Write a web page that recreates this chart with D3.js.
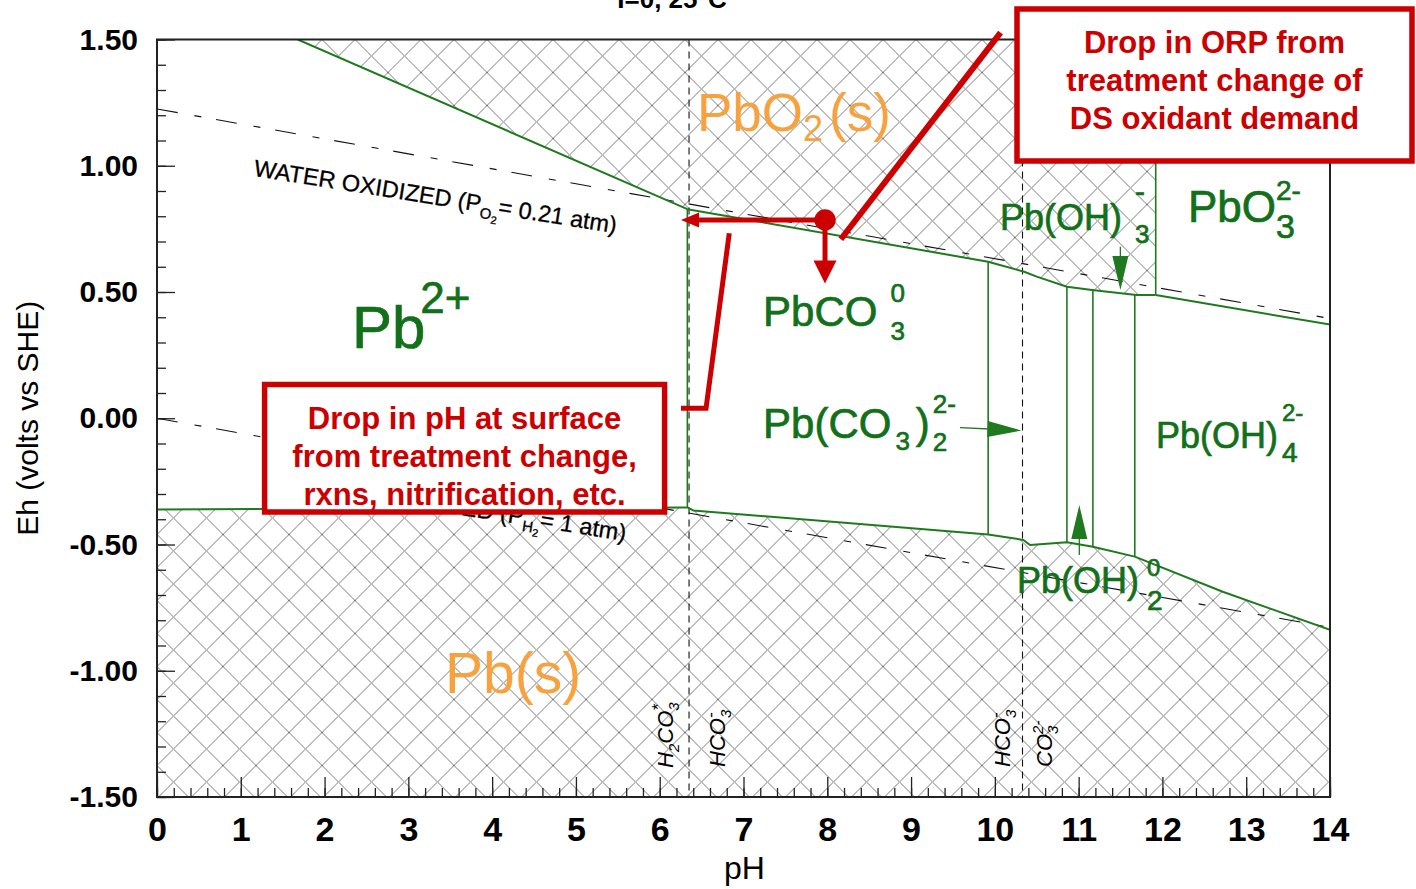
<!DOCTYPE html>
<html>
<head>
<meta charset="utf-8">
<script src="https://cdn.jsdelivr.net/npm/d3@7"></script>
<style>
  html, body { margin: 0; padding: 0; background: #fff; }
  svg { display: block; }
</style>
</head>
<body>
<svg id="chart" width="1416" height="889"></svg>
<script>
// Eh–pH predominance diagram for lead with carbonate, I=0, 25 °C

// ---- data -------------------------------------------------------------
const phTicks = [0, 1, 2, 3, 4, 5, 6, 7, 8, 9, 10, 11, 12, 13, 14];
const ehTicks = [-1.5, -1.0, -0.5, 0.0, 0.5, 1.0, 1.5];

// lower edge of the PbO2(s) field  [pH, Eh]
const pbo2Edge = [
  [1.68, 1.500], [6.33, 0.828], [9.92, 0.620], [10.35, 0.580], [10.50, 0.561],
  [10.86, 0.521], [11.16, 0.508], [11.69, 0.488], [11.92, 0.488]
];
// PbO3(2-) / Pb(OH)4(2-) boundary
const pbo3Edge = [[11.92, 0.488], [14.0, 0.371]];
// upper edge of the Pb(s) field
const pbEdge = [
  [0.00, -0.361], [6.33, -0.353], [6.40, -0.365], [9.92, -0.460], [10.34, -0.482],
  [10.42, -0.502], [10.86, -0.491], [11.17, -0.509], [11.67, -0.548], [12.72, -0.687],
  [14.00, -0.838]
];
// vertical boundaries between dissolved species  {pH, top Eh, bottom Eh}
const fieldEdges = [
  { ph: 6.33,  top: 0.828, bottom: -0.353 },
  { ph: 9.92,  top: 0.620, bottom: -0.460 },
  { ph: 10.86, top: 0.521, bottom: -0.491 },
  { ph: 11.17, top: 0.508, bottom: -0.509 },
  { ph: 11.67, top: 0.488, bottom: -0.548 },
  { ph: 11.92, top: 1.500, bottom: 0.488 }
];
const carbonatePKa = [6.35, 10.33];
const waterO2 = [[0, 1.225], [14, 0.395]];
const waterH2 = [[0, 0.000], [14, -0.828]];

// small arrows pointing into narrow fields  [tail, tip]
const fieldArrows = [
  [[11.498, 0.679], [11.498, 0.508]],
  [[9.584, -0.037], [10.318, -0.0485]],
  [[11.008, -0.542], [11.008, -0.344]]
];

// treatment-change annotation: starting point and where it moves to
const orpPoint = [7.973, 0.785];
const phDropTo = 6.254;
const ehDropTo = 0.534;

// ---- layout -----------------------------------------------------------
const svg = d3.select('#chart');
const x = d3.scaleLinear().domain([0, 14]).range([157, 1330]);
const y = d3.scaleLinear().domain([-1.5, 1.5]).range([797, 39.5]);
const px = d => x(d[0]);
const py = d => y(d[1]);
const line = d3.line().x(px).y(py);

const fontMain = "'Liberation Sans', Arial, Helvetica, sans-serif";
const fontNarrow = "'Liberation Sans Narrow', 'Arial Narrow', 'Liberation Sans', Arial, sans-serif";
const green = '#1f7a1f';
const greenText = '#12701a';
const orange = '#f7a13f';
const red = '#cc0000';

const defs = svg.append('defs');
defs.append('pattern')
  .attr('id', 'xhatch')
  .attr('patternUnits', 'userSpaceOnUse')
  .attr('width', 33).attr('height', 33)
  .attr('x', x(0)).attr('y', y(1.5))
  .append('path')
  .attr('d', 'M-3,-3L36,36M36,-3L-3,36')
  .attr('stroke', '#7c7c7c').attr('stroke-width', 1).attr('fill', 'none');

defs.append('clipPath').attr('id', 'plotClip')
  .append('rect')
  .attr('x', x(0)).attr('y', y(1.5))
  .attr('width', x(14) - x(0)).attr('height', y(-1.5) - y(1.5));

const plot = svg.append('g').attr('clip-path', 'url(#plotClip)');

// solid-phase fields
plot.append('path')
  .attr('d', line(pbo2Edge.concat([[11.92, 1.5], [1.68, 1.5]])) + 'Z')
  .attr('fill', 'url(#xhatch)');
plot.append('path')
  .attr('d', line(pbEdge.concat([[14, -1.5], [0, -1.5]])) + 'Z')
  .attr('fill', 'url(#xhatch)');

// water stability limits
[waterO2, waterH2].forEach(w => {
  plot.append('path').attr('d', line(w))
    .attr('fill', 'none').attr('stroke', '#111').attr('stroke-width', 1.1)
    .attr('stroke-dasharray', '21,17,7,15');
});

// carbonate speciation boundaries
plot.selectAll('line.pka').data(carbonatePKa).enter().append('line')
  .attr('x1', d => x(d)).attr('x2', d => x(d))
  .attr('y1', y(1.5)).attr('y2', y(-1.5))
  .attr('stroke', '#111').attr('stroke-width', 1.1)
  .attr('stroke-dasharray', '7,5');

// field boundaries
[pbo2Edge, pbo3Edge, pbEdge].forEach(b => {
  plot.append('path').attr('d', line(b))
    .attr('fill', 'none').attr('stroke', green).attr('stroke-width', 2)
    .attr('stroke-linejoin', 'round');
});
plot.selectAll('line.edge').data(fieldEdges).enter().append('line')
  .attr('x1', d => x(d.ph)).attr('x2', d => x(d.ph))
  .attr('y1', d => y(d.top)).attr('y2', d => y(d.bottom))
  .attr('stroke', green).attr('stroke-width', 1.6);

// arrows into the narrow fields
function arrow(g, tail, tip, headLen, halfW, color, strokeW) {
  const x0 = px(tail), y0 = py(tail), x1 = px(tip), y1 = py(tip);
  const len = Math.hypot(x1 - x0, y1 - y0);
  const ux = (x1 - x0) / len, uy = (y1 - y0) / len;
  const bx = x1 - ux * headLen, by = y1 - uy * headLen;
  g.append('line')
    .attr('x1', x0).attr('y1', y0).attr('x2', bx + ux * 2).attr('y2', by + uy * 2)
    .attr('stroke', color).attr('stroke-width', strokeW);
  g.append('path')
    .attr('d', `M${x1},${y1}L${bx - uy * halfW},${by + ux * halfW}L${bx + uy * halfW},${by - ux * halfW}Z`)
    .attr('fill', color);
}
fieldArrows.forEach(a => arrow(svg, a[0], a[1], 34, 8, green, 1.3));

// frame
svg.append('rect')
  .attr('x', x(0)).attr('y', y(1.5))
  .attr('width', x(14) - x(0)).attr('height', y(-1.5) - y(1.5))
  .attr('fill', 'none').attr('stroke', '#222').attr('stroke-width', 2);

// axes (ticks point inward)
const fmt = d => d.toFixed(2);
const yMinor = svg.append('g').attr('transform', `translate(${x(0)},0)`)
  .call(d3.axisLeft(y).tickValues(d3.range(-15, 16).map(v => v / 10)).tickSize(-9).tickFormat(''));
const yMajor = svg.append('g').attr('transform', `translate(${x(0)},0)`)
  .call(d3.axisLeft(y).tickValues(ehTicks).tickSize(-18).tickPadding(19).tickFormat(fmt));
const xMinor = svg.append('g').attr('transform', `translate(0,${y(-1.5)})`)
  .call(d3.axisBottom(x).tickValues(d3.range(0, 71).map(v => v / 5)).tickSize(-9).tickFormat(''));
const xMajor = svg.append('g').attr('transform', `translate(0,${y(-1.5)})`)
  .call(d3.axisBottom(x).tickValues(phTicks).tickSize(-20).tickPadding(20).tickFormat(d => String(d)));
[yMinor, yMajor, xMinor, xMajor].forEach(a => {
  a.select('.domain').remove();
  a.selectAll('.tick line').attr('stroke', '#222').attr('stroke-width', 1.3);
});
yMajor.selectAll('text')
  .attr('font-family', fontMain).attr('font-weight', 'bold').attr('font-size', 30).attr('fill', '#000');
xMajor.selectAll('text')
  .attr('font-family', fontNarrow).attr('font-weight', 'bold').attr('font-size', 34).attr('fill', '#000');

svg.append('text')
  .attr('transform', `translate(38,${(y(1.5) + y(-1.5)) / 2}) rotate(-90)`)
  .attr('text-anchor', 'middle')
  .attr('font-family', fontNarrow).attr('font-size', 30).attr('fill', '#000')
  .text('Eh (volts vs SHE)');
svg.append('text')
  .attr('x', (x(0) + x(14)) / 2 + 1).attr('y', 879)
  .attr('text-anchor', 'middle')
  .attr('font-family', fontNarrow).attr('font-size', 32).attr('fill', '#000')
  .text('pH');
svg.append('text')
  .attr('x', 672).attr('y', 8)
  .attr('text-anchor', 'middle')
  .attr('font-family', fontMain).attr('font-weight', 'bold').attr('font-size', 26).attr('fill', '#000')
  .text('I=0, 25°C');

// chemical formula with sub/superscripts laid out piece by piece
function formula(parent, transform, parts, style, anchorEnd) {
  const g = parent.append('g').attr('transform', transform);
  const inner = g.append('g');
  let cx = 0, prevStart = 0, prevEnd = 0;
  parts.forEach(p => {
    const start = p.stack ? prevStart : cx + (p.dx || 0);
    const t = inner.append('text')
      .attr('x', start).attr('y', p.dy || 0)
      .attr('font-size', p.s)
      .attr('font-family', style.family || fontMain)
      .attr('font-weight', style.weight || 'normal')
      .attr('font-style', style.italic ? 'italic' : 'normal')
      .attr('fill', style.fill)
      .attr('stroke', style.stroke ? style.fill : null)
      .attr('stroke-width', style.stroke || null)
      .text(p.t);
    const w = t.node().getComputedTextLength();
    if (p.stack) {
      cx = Math.max(prevEnd, start + w);
    } else {
      prevStart = start; prevEnd = start + w; cx = start + w;
    }
  });
  if (anchorEnd) inner.attr('transform', `translate(${-cx},0)`);
  return g;
}
const at = (ph, eh, extra) => `translate(${x(ph)},${y(eh)})` + (extra || '');

// dissolved species
const gs = { fill: greenText, stroke: 0.7 };
formula(svg, at(2.327, 0.278), [{ t: 'Pb', s: 60 }, { t: '2+', s: 44, dy: -35, dx: -5 }], gs);
formula(svg, at(7.233, 0.365), [{ t: 'PbCO', s: 42 }, { t: '0', s: 26, dy: -24, dx: 13 }, { t: '3', s: 26, dy: 14, stack: true }], gs);
formula(svg, at(7.233, -0.078), [
  { t: 'Pb(CO', s: 42 }, { t: '3', s: 26, dy: 12, dx: 4 }, { t: ')', s: 42, dx: 6 },
  { t: '2-', s: 26, dy: -25, dx: 3 }, { t: '2', s: 26, dy: 13, stack: true }], gs);
formula(svg, at(10.061, 0.746), [{ t: 'Pb(OH)', s: 36 }, { t: '-', s: 30, dy: -28, dx: 13 }, { t: '3', s: 26, dy: 13, stack: true }], gs);
formula(svg, at(12.305, 0.778), [{ t: 'PbO', s: 44 }, { t: '2-', s: 28, dy: -22 }, { t: '3', s: 34, dy: 16, stack: true }], gs);
formula(svg, at(11.923, -0.118), [{ t: 'Pb(OH)', s: 36 }, { t: '2-', s: 24, dy: -27, dx: 4 }, { t: '4', s: 28, dy: 14, stack: true }], gs);
formula(svg, at(10.264, -0.692), [{ t: 'Pb(OH)', s: 36 }, { t: '0', s: 24, dy: -17, dx: 8 }, { t: '2', s: 28, dy: 17, stack: true }], gs);

// solid phases
const os = { fill: orange };
formula(svg, at(6.445, 1.138), [{ t: 'PbO', s: 53 }, { t: '2', s: 36, dy: 10 }, { t: '(s)', s: 53, dx: 6 }], os);
formula(svg, at(3.437, -1.088), [{ t: 'Pb(s)', s: 57 }], os);

// carbonate species on either side of each pKa
const cs = { fill: '#000', italic: true };
formula(svg, at(6.158, -1.385, ' rotate(-90)'), [
  { t: 'H', s: 22 }, { t: '2', s: 15, dy: 6 }, { t: 'CO', s: 22 },
  { t: '*', s: 17, dy: -9 }, { t: '3', s: 15, dy: 6, stack: true }], cs);
formula(svg, at(6.78, -1.381, ' rotate(-90)'), [
  { t: 'HCO', s: 22 }, { t: '-', s: 17, dy: -9 }, { t: '3', s: 15, dy: 6, stack: true }], cs);
formula(svg, at(10.18, -1.381, ' rotate(-90)'), [
  { t: 'HCO', s: 22 }, { t: '-', s: 17, dy: -9 }, { t: '3', s: 15, dy: 6, stack: true }], cs);
formula(svg, at(10.68, -1.381, ' rotate(-90)'), [
  { t: 'CO', s: 22 }, { t: '2-', s: 15, dy: -9 }, { t: '3', s: 15, dy: 6, stack: true }], cs);

// water line labels
const ws = { fill: '#000', stroke: 0.3 };
formula(svg, at(1.146, 0.960, ' rotate(9)'), [
  { t: 'WATER OXIDIZED (P', s: 23.5 }, { t: 'O', s: 15, dy: 6 }, { t: '2', s: 11, dy: 10 },
  { t: '= 0.21 atm)', s: 23.5 }], ws);
formula(svg, at(5.585, -0.486, ' rotate(9)'), [
  { t: 'WATER REDUCED (P', s: 23.5 }, { t: 'H', s: 15, dy: 6 }, { t: '2', s: 11, dy: 10 },
  { t: '= 1 atm)', s: 23.5 }], ws, true);

// ---- treatment-change annotation --------------------------------------
const ann = svg.append('g');
ann.append('path').attr('d', line([[10.068, 1.527], [8.162, 0.709]]))
  .attr('fill', 'none').attr('stroke', red).attr('stroke-width', 6);
ann.append('path').attr('d', line([[6.254, 0.0394], [6.553, 0.0394], [6.830, 0.7325]]))
  .attr('fill', 'none').attr('stroke', red).attr('stroke-width', 5);
arrow(ann, orpPoint, [phDropTo, orpPoint[1]], 18, 7.5, red, 5);
arrow(ann, orpPoint, [orpPoint[0], ehDropTo], 23, 11.5, red, 5);
ann.append('circle').attr('cx', px(orpPoint)).attr('cy', py(orpPoint)).attr('r', 10.7).attr('fill', red);

function callout(x0, y0, w, h, lines) {
  ann.append('rect').attr('x', x0).attr('y', y0).attr('width', w).attr('height', h)
    .attr('fill', '#fff').attr('stroke', red).attr('stroke-width', 5.5);
  lines.forEach((l, i) => {
    ann.append('text')
      .attr('x', x0 + w / 2).attr('y', y0 + 44 + i * 38)
      .attr('text-anchor', 'middle')
      .attr('font-family', fontMain).attr('font-weight', 'bold').attr('font-size', 31)
      .attr('fill', red).text(l);
  });
}
callout(1017, 9, 395, 152, ['Drop in ORP from', 'treatment change of', 'DS oxidant demand']);
callout(264.6, 384.5, 400, 127.5, ['Drop in pH at surface', 'from treatment change,', 'rxns, nitrification, etc.']);
</script>
</body>
</html>
